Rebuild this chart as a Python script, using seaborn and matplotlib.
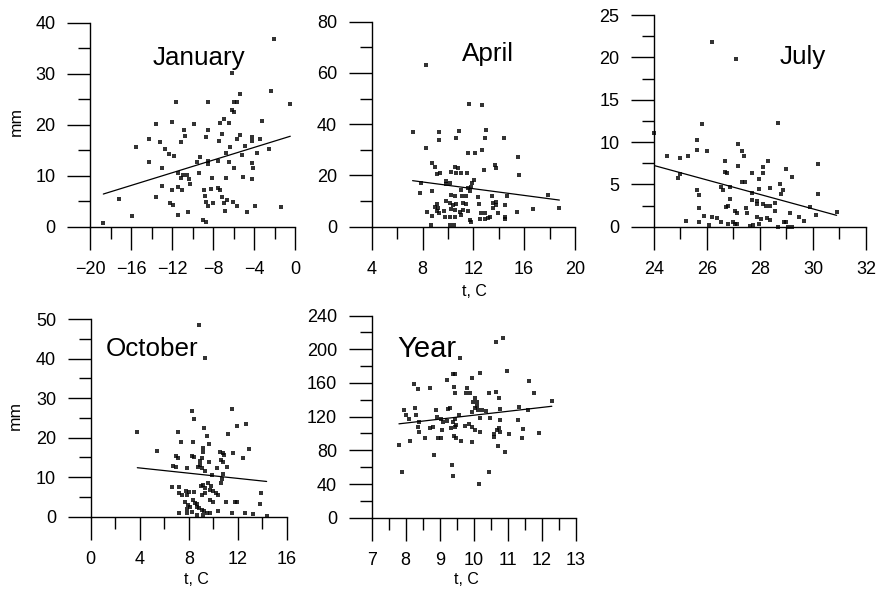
import matplotlib
matplotlib.use("Agg")
import matplotlib.pyplot as plt
from matplotlib.ticker import MultipleLocator
import seaborn as sns

# Monthly / annual precipitation (mm) against mean air temperature (t, C)
jan_t = [-11.64, -13.59, -12.03, -10.8, -11.15, -14.2, -13.14, -15.54, -12.68, -12.29,
         -11.8, -14.21, -13.0, -11.38, -10.96, -11.15, -13.0, -11.44, -11.05, -12.03,
         -17.17, -13.59, -12.2, -11.9, -11.44, -15.93, -18.7,
         -2.05, -6.18, -5.37, -2.37, -5.98, -5.69, -8.52, -0.46, -6.18, -5.92,
         -3.25, -6.9, -7.29, -6.44, -9.82, -10.73, -8.52, -7.15, -8.71, -7.41,
         -5.37, -5.69, -4.22, -4.22, -3.38, -4.88, -6.34, -2.54, -3.74, -6.76,
         -9.27, -5.2, -9.59, -8.52, -8.52, -7.54, -6.41, -4.22, -5.92, -4.12,
         -9.34, -10.54, -10.31, -10.21, -8.13, -6.76, -5.04, -4.22, -8.85, -8.2,
         -7.54, -7.29, -8.78, -7.09, -8.68, -8.52, -8.03, -6.9, -6.67, -6.08,
         -5.69, -6.83, -10.47, -4.72, -3.9, -1.4, -8.95, -8.71]
jan_mm = [24.5, 20.1, 20.6, 18.9, 16.7, 17.2, 16.6, 15.7, 15.2, 14.2,
          13.9, 12.7, 11.6, 10.5, 10.1, 9.5, 8.0, 7.8, 7.1, 7.1,
          5.4, 5.9, 4.7, 4.2, 2.2, 2.0, 0.8,
          36.8, 30.2, 26.0, 26.7, 24.5, 24.5, 24.5, 24.0, 22.9, 22.4,
          20.8, 21.1, 20.4, 20.4, 20.1, 17.8, 19.0, 18.1, 17.5, 16.9,
          17.9, 17.2, 17.6, 16.8, 17.2, 15.9, 15.7, 15.2, 14.5, 14.4,
          13.7, 14.1, 12.7, 12.9, 12.3, 12.9, 12.7, 12.5, 11.6, 11.6,
          10.6, 10.1, 9.3, 8.4, 9.6, 9.6, 9.8, 9.4, 7.1, 7.3,
          7.6, 7.1, 6.0, 5.9, 4.9, 4.1, 4.7, 4.7, 5.2, 4.9,
          4.1, 3.1, 2.9, 2.9, 4.1, 3.9, 1.3, 1.0]

apr_t = [8.31, 7.22, 9.28, 9.28, 8.31, 8.78, 9.02, 9.1, 9.41, 7.87,
         9.83, 9.83, 7.79, 8.71, 9.83, 9.1, 8.97, 9.22, 9.1, 8.39,
         8.71, 9.3, 9.67, 9.77, 8.65,
         11.63, 12.71, 10.85, 10.67, 12.96, 12.89, 14.45, 11.58, 12.1, 12.67,
         15.55, 10.53, 10.79, 13.67, 13.8, 12.81, 10.27, 10.67, 11.06, 11.5,
         15.63, 12.02, 11.92, 11.84, 10.14, 11.58, 11.76, 11.06, 10.27, 10.53,
         11.14, 11.45, 12.36, 13.46, 14.65, 17.9, 10.14, 10.4, 10.67, 11.18,
         11.45, 12.44, 13.54, 13.75, 13.8, 14.53, 10.27, 10.53, 10.93, 11.18,
         11.58, 12.63, 12.89, 13.54, 13.93, 15.45, 16.73, 18.77, 10.14, 10.53,
         11.06, 11.71, 11.84, 12.5, 12.89, 13.14, 13.33, 14.53, 14.53, 10.45,
         10.14]
apr_mm = [63.1, 37.1, 37.1, 33.8, 30.8, 25.0, 23.4, 20.6, 21.1, 17.2,
          17.8, 16.7, 13.3, 14.1, 10.1, 8.9, 7.8, 7.2, 6.2, 5.9,
          4.3, 5.2, 6.2, 3.9, 0.7,
          47.9, 47.4, 37.5, 34.5, 37.9, 34.5, 34.5, 28.9, 28.9, 29.9,
          27.1, 23.4, 22.8, 24.0, 22.8, 22.1, 21.5, 21.1, 21.1, 21.1,
          20.2, 18.2, 16.9, 15.6, 16.9, 15.2, 14.1, 14.3, 12.4, 12.0,
          12.0, 12.0, 11.7, 12.0, 12.0, 12.4, 9.1, 8.5, 8.9, 9.1,
          8.9, 8.9, 9.1, 8.5, 9.8, 8.5, 6.8, 6.5, 5.9, 6.5,
          6.2, 5.5, 5.5, 7.2, 5.2, 5.9, 6.8, 7.2, 3.9, 3.9,
          4.6, 2.6, 2.0, 2.9, 2.9, 3.3, 3.9, 3.9, 2.9, 0.7,
          0.7]

jul_t = [24.0, 26.18, 25.8, 25.61, 25.61, 25.99, 24.48, 24.98, 25.27, 26.69,
         26.68, 26.77, 24.98, 24.92, 26.52, 26.62, 25.61, 25.71, 25.71, 26.72,
         26.8, 25.21, 25.9, 26.18, 26.39, 25.71, 26.09, 26.52, 26.8,
         27.09, 28.67, 27.17, 27.31, 27.4, 30.18, 27.16, 28.29, 28.1, 28.1,
         27.69, 29.0, 29.19, 27.31, 27.43, 27.97, 28.75, 28.38, 27.97, 28.85,
         28.78, 27.69, 30.18, 26.87, 26.87, 27.69, 27.87, 27.87, 28.1, 28.23,
         28.38, 28.57, 28.57, 27.47, 27.06, 27.12, 27.5, 29.12, 29.89, 29.48,
         29.66, 30.11, 30.89, 27.9, 28.03, 28.25, 28.38, 27.0, 27.06, 27.15,
         27.62, 27.72, 27.97, 28.67, 28.89, 29.0, 29.07, 29.19]
jul_mm = [11.1, 21.8, 12.1, 10.2, 9.1, 8.9, 8.4, 8.1, 8.4, 7.7,
          6.5, 6.4, 6.2, 5.7, 4.7, 4.3, 4.3, 3.7, 2.2, 2.3,
          2.5, 0.7, 1.3, 1.1, 1.0, 0.5, 0.2, 0.5, 0.3,
          19.8, 12.3, 9.8, 8.9, 8.3, 7.4, 7.2, 7.8, 7.0, 6.4,
          6.4, 6.8, 5.9, 5.3, 5.3, 5.6, 5.0, 4.6, 4.4, 4.3,
          3.9, 4.0, 3.9, 4.7, 3.3, 3.2, 3.0, 2.7, 2.7, 2.4,
          2.4, 2.8, 1.8, 2.2, 1.8, 1.6, 1.6, 1.6, 2.3, 1.2,
          0.7, 1.4, 1.7, 1.1, 0.9, 1.0, 0.8, 0.5, 0.3, 0.3,
          0.1, 0.2, 0.3, 0.0, 0.5, 0.6, 0.0, 0.0]

oct_t = [3.8, 5.42, 8.83, 9.32, 8.28, 8.44, 11.49, 11.95, 12.63, 7.14,
         9.26, 9.45, 11.21, 7.36, 8.36, 9.67, 9.13, 9.13, 12.93, 10.54,
         10.76, 10.86, 11.62, 6.95, 7.14, 8.28, 8.44, 9.05, 8.91, 12.44,
         9.67, 6.73, 6.95, 7.87, 8.72, 8.91, 9.05, 10.27, 11.13, 10.62,
         10.76, 9.32, 9.86, 10.76, 10.68, 10.6, 6.6, 7.22, 7.22, 7.42,
         7.77, 8.04, 7.87, 8.44, 8.99, 9.18, 9.32, 9.05, 9.32, 9.59,
         9.8, 9.72, 9.99, 10.21, 10.4, 9.72, 9.99, 11.03, 11.76, 11.95,
         13.85, 13.8, 7.69, 7.96, 8.09, 7.82, 8.36, 8.5, 8.64, 8.64,
         8.85, 9.05, 9.23, 9.45, 9.72, 8.23, 7.82, 7.22, 10.4, 11.49,
         12.58, 13.25, 14.34, 8.64, 9.18]
oct_mm = [21.4, 16.6, 48.5, 40.1, 26.8, 24.7, 27.2, 23.0, 23.4, 21.4,
          22.4, 20.4, 20.9, 19.0, 19.0, 18.3, 17.3, 16.3, 17.1, 16.3,
          16.1, 15.6, 16.1, 15.4, 14.8, 15.4, 15.2, 14.9, 14.1, 14.9,
          13.9, 12.9, 12.7, 12.4, 12.7, 13.1, 12.4, 12.3, 12.7, 14.4,
          13.9, 11.6, 10.6, 10.8, 9.5, 8.5, 7.6, 7.6, 6.1, 5.5,
          6.6, 6.2, 5.5, 6.3, 7.8, 8.0, 7.2, 5.5, 5.9, 8.5,
          7.8, 6.8, 6.6, 6.1, 5.5, 4.2, 3.8, 3.8, 3.6, 3.8,
          6.1, 3.1, 3.8, 3.0, 2.4, 1.9, 4.2, 3.5, 3.2, 2.5,
          2.1, 1.7, 1.5, 1.0, 0.9, 1.3, 0.9, 0.9, 1.4, 0.9,
          0.9, 0.7, 0.2, 0.4, 0.4]

year_t = [7.88, 7.8, 8.12, 7.95, 8.01, 8.27, 8.3, 8.1, 8.4, 8.37,
          8.4, 8.25, 8.37, 8.71, 8.57, 8.71, 8.81, 8.89, 8.91, 8.84,
          8.96, 9.04, 9.04, 9.1, 9.06, 9.25, 9.3, 9.22, 9.38, 9.45,
          9.42, 9.45, 9.22, 9.38, 9.45, 9.32, 9.45, 9.48, 9.42, 9.48,
          9.35, 9.4, 9.57,
          9.59, 10.65, 10.87, 9.79, 9.77, 9.89, 9.94, 10.18, 10.96, 11.63,
          10.44, 10.65, 10.75, 11.77, 10.03, 10.08, 9.98, 12.29, 10.1, 10.13,
          10.03, 9.94, 10.23, 10.36, 10.77, 11.33, 11.6, 10.18, 10.47, 10.77,
          11.31, 9.74, 9.87, 9.94, 11.45, 10.03, 10.18, 10.67, 10.75, 10.77,
          10.59, 10.59, 11.04, 11.41, 11.91, 9.62, 9.94, 10.7, 10.91, 10.44,
          10.15]
year_mm = [53.9, 86.3, 91.4, 127.8, 121.9, 129.9, 121.9, 116.8, 114.0, 108.0,
           102.1, 158.3, 152.8, 153.6, 94.2, 106.1, 108.0, 127.8, 119.2, 74.4,
           94.2, 94.2, 117.2, 114.0, 104.1, 128.7, 129.9, 163.4, 170.2, 170.2,
           155.5, 148.4, 115.1, 114.0, 116.8, 106.1, 107.3, 110.0, 97.0, 94.2,
           62.6, 49.5, 121.9,
           189.9, 208.2, 212.9, 153.6, 148.4, 148.4, 165.5, 171.4, 174.5, 162.3,
           148.4, 149.6, 141.7, 148.4, 141.7, 137.7, 137.7, 138.5, 132.6, 127.8,
           129.9, 125.8, 127.8, 127.0, 128.7, 131.0, 127.8, 118.0, 118.0, 116.0,
           116.0, 108.8, 110.9, 108.0, 104.9, 104.1, 102.1, 104.1, 106.1, 102.1,
           96.1, 99.0, 99.0, 95.0, 100.2, 91.4, 89.5, 85.5, 77.6, 53.9,
           39.6]

titles = ["January", "April", "July", "October", "Year"]

sns.set_style("ticks")
plt.rcParams["font.family"] = ["Liberation Sans", "DejaVu Sans"]
plt.rcParams["text.color"] = "black"

W, H = 879, 591
fig = plt.figure(figsize=(W / 100, H / 100), dpi=100)


def rect(x0, x1, y_top, y_bot):
    return [x0 / W, 1 - y_bot / H, (x1 - x0) / W, (y_bot - y_top) / H]


def panel(r, x, y, xlim, ylim, xmaj, xmin, ymaj, ymin):
    ax = fig.add_axes(r)
    sns.regplot(x=x, y=y, ax=ax, ci=None, truncate=True, marker="s",
                color="black",
                scatter_kws=dict(s=9, linewidths=0, clip_on=False),
                line_kws=dict(color="black", lw=0.9))
    ax.set_xlim(*xlim)
    ax.set_ylim(*ylim)
    ax.xaxis.set_major_locator(MultipleLocator(xmaj))
    ax.xaxis.set_minor_locator(MultipleLocator(xmin))
    ax.yaxis.set_major_locator(MultipleLocator(ymaj))
    ax.yaxis.set_minor_locator(MultipleLocator(ymin))
    ax.tick_params(which="major", direction="out", length=16.5, width=1.0,
                   pad=8.5, labelsize=13, color="black", labelcolor="black")
    ax.tick_params(which="minor", direction="out", length=8.8, width=1.0,
                   color="black")
    for s in ("left", "bottom"):
        ax.spines[s].set_linewidth(1.0)
        ax.spines[s].set_color("black")
    sns.despine(ax=ax)
    ax.set_xlabel("")
    ax.set_ylabel("")
    return ax


panel(rect(90, 295, 22.7, 226.7), jan_t, jan_mm, (-20, 0), (0, 40), 4, 2, 10, 5)
panel(rect(371.7, 575, 21.7, 226.7), apr_t, apr_mm, (4, 20), (0, 80), 4, 2, 20, 10)
panel(rect(654, 866, 15, 226.7), jul_t, jul_mm, (24, 32), (0, 25), 2, 1, 5, 2.5)
panel(rect(90.7, 287, 319.2, 516.7), oct_t, oct_mm, (0, 16), (0, 50), 4, 2, 10, 5)
panel(rect(371.7, 576, 315.5, 517.7), year_t, year_mm, (7, 13), (0, 240), 1, 0.5, 40, 20)

# Panel titles (left edge, baseline in pixels)
title_pos = [(153, 65, 18.7), (462, 61, 18.7), (780, 64, 18.7), (106, 356, 18.7), (397, 357, 21)]
for t, (px, py, fs) in zip(titles, title_pos):
    fig.text(px / W, 1 - py / H, t, fontsize=fs, ha="left", va="baseline")

# Axis titles
for px, py in [(16, 121), (15, 416)]:
    fig.text(px / W, 1 - py / H, "mm", rotation=90, fontsize=12.5,
             ha="center", va="center")
for px, py in [(474, 292), (196, 579), (466, 580)]:
    fig.text(px / W, 1 - py / H, "t, C", fontsize=11.5, ha="center", va="center")

fig.savefig("out.png", dpi=100, facecolor="white")
